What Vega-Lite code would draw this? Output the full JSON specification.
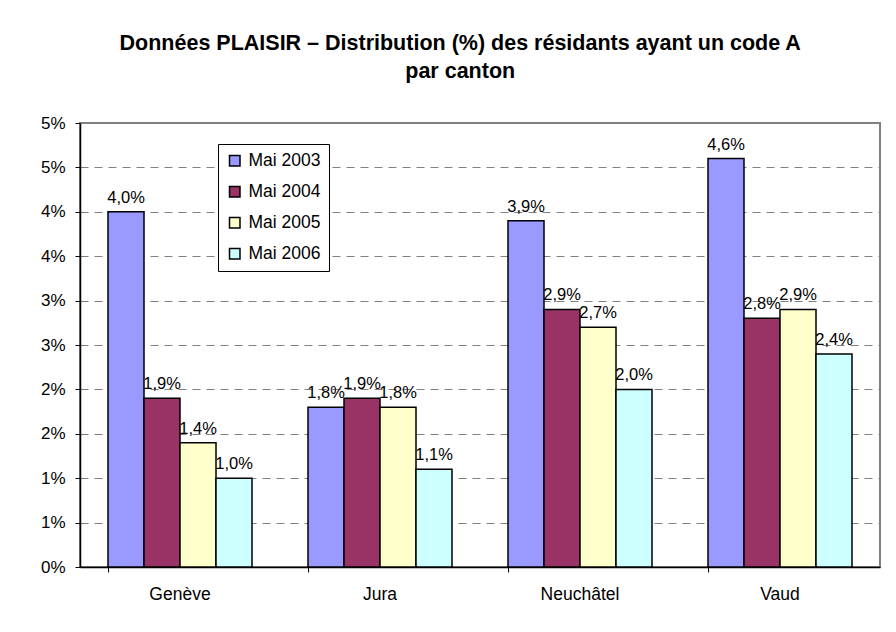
{
  "$schema": "https://vega.github.io/schema/vega-lite/v6.json",
  "autosize": "none",
  "width": 800,
  "height": 444,
  "padding": {"left": 80, "top": 123, "right": 16, "bottom": 65},
  "background": "white",
  "title": {
    "text": ["Données PLAISIR – Distribution (%) des résidants ayant un code A", "par canton"],
    "fontSize": 21.5,
    "font": "Liberation Sans",
    "fontWeight": "bold",
    "color": "black",
    "lineHeight": 28,
    "anchor": "middle",
    "frame": "bounds",
    "offset": 32
  },
  "data": {
    "values": [
      {"canton": "Genève", "annee": "Mai 2003", "valeur": 0.040},
      {"canton": "Genève", "annee": "Mai 2004", "valeur": 0.019},
      {"canton": "Genève", "annee": "Mai 2005", "valeur": 0.014},
      {"canton": "Genève", "annee": "Mai 2006", "valeur": 0.010},
      {"canton": "Jura", "annee": "Mai 2003", "valeur": 0.018},
      {"canton": "Jura", "annee": "Mai 2004", "valeur": 0.019},
      {"canton": "Jura", "annee": "Mai 2005", "valeur": 0.018},
      {"canton": "Jura", "annee": "Mai 2006", "valeur": 0.011},
      {"canton": "Neuchâtel", "annee": "Mai 2003", "valeur": 0.039},
      {"canton": "Neuchâtel", "annee": "Mai 2004", "valeur": 0.029},
      {"canton": "Neuchâtel", "annee": "Mai 2005", "valeur": 0.027},
      {"canton": "Neuchâtel", "annee": "Mai 2006", "valeur": 0.020},
      {"canton": "Vaud", "annee": "Mai 2003", "valeur": 0.046},
      {"canton": "Vaud", "annee": "Mai 2004", "valeur": 0.028},
      {"canton": "Vaud", "annee": "Mai 2005", "valeur": 0.029},
      {"canton": "Vaud", "annee": "Mai 2006", "valeur": 0.024}
    ]
  },
  "encoding": {
    "x": {
      "field": "canton",
      "type": "nominal",
      "sort": ["Genève", "Jura", "Neuchâtel", "Vaud"],
      "scale": {"paddingInner": 0.28, "paddingOuter": 0.14},
      "axis": {
        "title": null,
        "labelAngle": 0,
        "bandPosition": 0,
        "labelFontSize": 17.5,
        "labelFont": "Liberation Sans",
        "labelColor": "black",
        "labelPadding": 13,
        "tickSize": 5,
        "tickColor": "black",
        "domainColor": "black",
        "domainWidth": 1.5,
        "grid": false
      }
    },
    "xOffset": {
      "field": "annee",
      "type": "nominal",
      "scale": {"paddingInner": 0, "paddingOuter": 0}
    },
    "y": {
      "field": "valeur",
      "type": "quantitative",
      "scale": {"domain": [0, 0.05], "nice": false},
      "axis": {
        "title": null,
        "values": [0, 0.005, 0.01, 0.015, 0.02, 0.025, 0.03, 0.035, 0.04, 0.045, 0.05],
        "labelExpr": "round(datum.value * 100) + '%'",
        "labelFontSize": 17,
        "labelFont": "Liberation Sans",
        "labelColor": "black",
        "labelPadding": 10,
        "tickSize": 5,
        "tickColor": "black",
        "domainColor": "black",
        "domainWidth": 1.5,
        "grid": true,
        "gridColor": "#808080",
        "gridDash": [8, 6],
        "gridWidth": 1
      }
    }
  },
  "layer": [
    {
      "mark": {"type": "bar", "stroke": "black", "strokeWidth": 1.5},
      "encoding": {
        "color": {
          "field": "annee",
          "type": "nominal",
          "scale": {
            "domain": ["Mai 2003", "Mai 2004", "Mai 2005", "Mai 2006"],
            "range": ["#9999FF", "#993366", "#FFFFCC", "#CCFFFF"]
          },
          "legend": {
            "title": null,
            "orient": "none",
            "legendX": 138,
            "legendY": 21,
            "symbolType": "square",
            "symbolSize": 110,
            "symbolStrokeColor": "black",
            "symbolStrokeWidth": 1.5,
            "symbolOpacity": 1,
            "labelFontSize": 17.5,
            "labelFont": "Liberation Sans",
            "labelColor": "black",
            "labelOffset": 5,
            "rowPadding": 12,
            "padding": 8,
            "strokeColor": "black",
            "fillColor": "white"
          }
        }
      }
    },
    {
      "mark": {
        "type": "text",
        "baseline": "bottom",
        "dy": -6,
        "fontSize": 16.5,
        "font": "Liberation Sans",
        "color": "black"
      },
      "encoding": {
        "text": {"field": "valeur", "type": "quantitative", "format": ".1%"}
      }
    }
  ],
  "config": {
    "locale": {
      "number": {
        "decimal": ",",
        "thousands": " ",
        "grouping": [3],
        "currency": ["", " CHF"]
      }
    },
    "view": {"stroke": "#808080", "strokeWidth": 2}
  }
}
